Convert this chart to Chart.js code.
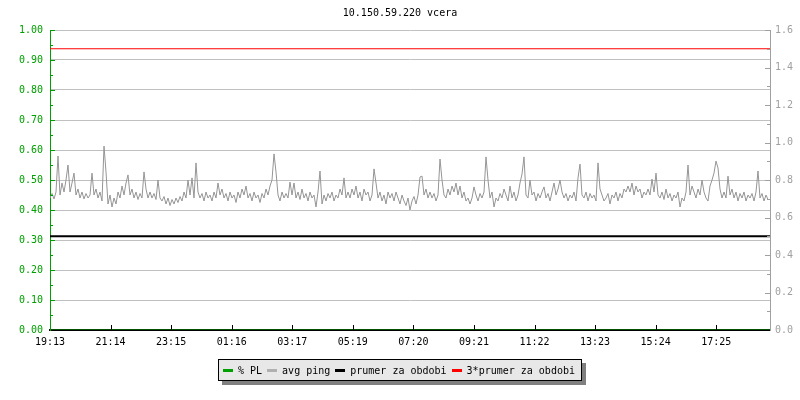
<!DOCTYPE html>
<html>
<head>
<meta charset="utf-8">
<script src="https://cdn.jsdelivr.net/npm/chart.js@4.4.1/dist/chart.umd.min.js"></script>
<style>
  html, body { margin: 0; padding: 0; background: #ffffff; }
  #wrap { position: relative; width: 800px; height: 400px; }
  #legend {
    position: absolute; left: 218px; top: 359px; height: 22px;
    box-sizing: border-box; padding: 0 6px 0 4px;
    background: #e8e8e8; border: 1px solid #000;
    box-shadow: 4px 4px 0 #808080;
    display: flex; align-items: center;
    font-family: "DejaVu Sans Mono", monospace; font-size: 10px; color: #000;
    white-space: pre;
  }
  #legend .sw { display: inline-block; width: 10px; height: 3px; margin: 0 5px 0 0; }
  #legend .it { display: flex; align-items: center; margin-right: 5px; }
  #legend .it:last-child { margin-right: 0; }
</style>
</head>
<body>
<div id="wrap">
  <canvas id="c" width="800" height="400"></canvas>
  <div id="legend"></div>
</div>
<script>
// ---- data ----
const chartTitle = '10.150.59.220 vcera';
const timeLabels = ['19:13','21:14','23:15','01:16','03:17','05:19','07:20','09:21','11:22','13:23','15:24','17:25'];
const tickStepMinutes = 121.13;
const totalMinutes = 1440;
const sampleStepMinutes = 4;
const leftTickLabels = ['0.00','0.10','0.20','0.30','0.40','0.50','0.60','0.70','0.80','0.90','1.00'];
const rightTickLabels = ['0.0','0.2','0.4','0.6','0.8','1.0','1.2','1.4','1.6'];
const seriesNames = ['% PL', 'avg ping', 'prumer za obdobi', '3*prumer za obdobi'];

const pingValues = [
  0.44,0.455,0.437,0.46,0.58,0.45,0.49,0.46,0.50,0.55,
  0.46,0.49,0.523,0.45,0.47,0.44,0.46,0.437,0.455,0.44,
  0.45,0.523,0.45,0.47,0.44,0.46,0.43,0.613,0.527,0.42,
  0.45,0.41,0.44,0.42,0.46,0.44,0.48,0.45,0.49,0.517,
  0.45,0.47,0.44,0.46,0.435,0.455,0.44,0.527,0.47,0.44,
  0.46,0.44,0.455,0.435,0.50,0.44,0.43,0.445,0.42,0.44,
  0.415,0.435,0.42,0.44,0.425,0.445,0.43,0.46,0.44,0.50,
  0.45,0.507,0.44,0.557,0.46,0.44,0.455,0.43,0.46,0.44,
  0.45,0.43,0.46,0.44,0.49,0.45,0.47,0.44,0.455,0.43,
  0.46,0.44,0.45,0.425,0.46,0.44,0.47,0.45,0.48,0.44,
  0.455,0.43,0.46,0.44,0.45,0.425,0.455,0.44,0.47,0.45,
  0.48,0.50,0.587,0.527,0.45,0.43,0.46,0.44,0.455,0.44,
  0.493,0.45,0.49,0.44,0.46,0.435,0.47,0.44,0.455,0.43,
  0.46,0.44,0.45,0.41,0.46,0.53,0.42,0.45,0.43,0.455,
  0.44,0.46,0.43,0.45,0.44,0.47,0.45,0.507,0.44,0.46,
  0.44,0.47,0.45,0.48,0.44,0.46,0.43,0.47,0.45,0.46,
  0.43,0.45,0.537,0.49,0.44,0.46,0.43,0.45,0.42,0.46,
  0.44,0.455,0.43,0.46,0.44,0.42,0.45,0.43,0.415,0.44,
  0.40,0.43,0.445,0.42,0.45,0.51,0.513,0.45,0.47,0.44,
  0.46,0.44,0.455,0.43,0.45,0.57,0.50,0.45,0.44,0.47,
  0.45,0.48,0.46,0.49,0.45,0.48,0.44,0.46,0.43,0.44,
  0.42,0.44,0.477,0.45,0.43,0.455,0.44,0.46,0.577,0.50,
  0.44,0.46,0.41,0.44,0.43,0.455,0.44,0.47,0.45,0.43,
  0.48,0.44,0.46,0.43,0.45,0.49,0.52,0.577,0.45,0.44,
  0.50,0.45,0.46,0.43,0.455,0.44,0.46,0.477,0.44,0.455,
  0.43,0.46,0.49,0.45,0.47,0.50,0.46,0.44,0.455,0.43,
  0.45,0.44,0.46,0.43,0.507,0.553,0.45,0.44,0.46,0.43,
  0.455,0.44,0.45,0.43,0.557,0.47,0.45,0.43,0.44,0.455,
  0.42,0.45,0.44,0.46,0.43,0.455,0.44,0.47,0.46,0.48,
  0.46,0.49,0.45,0.48,0.46,0.47,0.44,0.46,0.45,0.47,
  0.45,0.503,0.46,0.523,0.45,0.44,0.46,0.435,0.47,0.44,
  0.455,0.43,0.45,0.44,0.46,0.41,0.44,0.43,0.46,0.55,
  0.45,0.48,0.46,0.44,0.47,0.45,0.50,0.46,0.44,0.43,
  0.48,0.50,0.523,0.563,0.54,0.47,0.44,0.46,0.44,0.513,
  0.45,0.47,0.44,0.46,0.43,0.455,0.44,0.46,0.43,0.45,
  0.44,0.455,0.43,0.46,0.53,0.44,0.455,0.43,0.45,0.435
];
const packetLossStepMinutes = 120;
const packetLoss = [0,0,0,0,0,0,0,0,0,0,0,0,0];
const prumerValues = [0.5, 0.5];          // right axis
const triplePrumerValues = [1.5, 1.5];    // right axis

// ---- colours ----
const GREEN = '#00a000';
const GREY_TXT = '#a0a0a0';
const PING = '#959595';
const GRID = '#c0c0c0';
const RED = '#ff0000';
const FONT = '"DejaVu Sans Mono", monospace';

const innerTicks = {
  id: 'innerTicks',
  afterDraw(chart) {
    const { ctx, chartArea: a, scales } = chart;
    const y = scales.y, y1 = scales.y1, x = scales.x;
    ctx.save();
    ctx.lineWidth = 1;
    ctx.strokeStyle = GREEN;
    for (let i = 1; i < leftTickLabels.length * 2 - 1; i++) {
      const v = (y.max - y.min) * i / ((leftTickLabels.length - 1) * 2);
      const py = Math.round(y.getPixelForValue(v)) + 0.5;
      const len = i % 2 === 0 ? 5 : 3;
      ctx.beginPath(); ctx.moveTo(a.left, py); ctx.lineTo(a.left + len, py); ctx.stroke();
    }
    ctx.strokeStyle = GREY_TXT;
    for (let i = 1; i < rightTickLabels.length * 2 - 1; i++) {
      const v = (y1.max - y1.min) * i / ((rightTickLabels.length - 1) * 2);
      const py = Math.round(y1.getPixelForValue(v)) + 0.5;
      const len = i % 2 === 0 ? 5 : 3;
      ctx.beginPath(); ctx.moveTo(a.right, py); ctx.lineTo(a.right - len, py); ctx.stroke();
    }
    ctx.strokeStyle = '#000';
    x.ticks.forEach(t => {
      if (t.value <= 0) return;
      const px = Math.round(x.getPixelForValue(t.value)) + 0.5;
      ctx.beginPath(); ctx.moveTo(px, a.bottom); ctx.lineTo(px, a.bottom - 5); ctx.stroke();
    });
    ctx.restore();
  }
};

const ctx = document.getElementById('c').getContext('2d');
const chart = new Chart(ctx, {
  type: 'line',
  data: {
    datasets: [
      {
        label: seriesNames[0],
        data: packetLoss.map((v, i) => ({ x: i * packetLossStepMinutes, y: v })),
        borderColor: GREEN, backgroundColor: GREEN, borderWidth: 1, pointRadius: 0, yAxisID: 'y'
      },
      {
        label: seriesNames[1],
        data: pingValues.map((v, i) => ({ x: i * sampleStepMinutes, y: v })),
        borderColor: PING, backgroundColor: PING, borderWidth: 1, pointRadius: 0, tension: 0, yAxisID: 'y'
      },
      {
        label: seriesNames[2],
        data: prumerValues.map((v, i) => ({ x: i * totalMinutes, y: v })),
        borderColor: '#000000', backgroundColor: '#000000', borderWidth: 2, pointRadius: 0, yAxisID: 'y1'
      },
      {
        label: seriesNames[3],
        data: triplePrumerValues.map((v, i) => ({ x: i * totalMinutes, y: v })),
        borderColor: RED, backgroundColor: RED, borderWidth: 1, pointRadius: 0, yAxisID: 'y1'
      }
    ]
  },
  options: {
    responsive: false,
    animation: false,
    layout: { padding: 0 },
    plugins: {
      legend: { display: false },
      tooltip: { enabled: false },
      title: {
        display: true, text: chartTitle, color: '#000',
        font: { family: FONT, size: 10, weight: 'normal', lineHeight: 1.2 },
        padding: { top: 7, bottom: 11 }
      }
    },
    scales: {
      x: {
        type: 'linear', min: 0, max: totalMinutes, z: 1,
        afterFit: s => { s.height = 70; },
        afterBuildTicks: s => { s.ticks = timeLabels.map((l, i) => ({ value: i * tickStepMinutes })); },
        grid: { display: false, drawTicks: false },
        border: { display: true, color: '#000', width: 2 },
        ticks: {
          autoSkip: false, maxRotation: 0, padding: 6, color: '#000',
          font: { family: FONT, size: 10 },
          callback: (v, i) => timeLabels[i]
        }
      },
      y: {
        position: 'left', min: 0, max: 1,
        afterFit: s => { s.width = 50; },
        afterBuildTicks: s => { s.ticks = leftTickLabels.map((l, i) => ({ value: i / (leftTickLabels.length - 1) })); },
        grid: { color: GRID, drawTicks: false, lineWidth: 1 },
        border: { display: true, color: GREEN, width: 1 },
        ticks: {
          padding: 7, color: GREEN, font: { family: FONT, size: 10 },
          callback: (v, i) => leftTickLabels[i]
        }
      },
      y1: {
        position: 'right', min: 0, max: 1.6,
        afterFit: s => { s.width = 30; },
        afterBuildTicks: s => { s.ticks = rightTickLabels.map((l, i) => ({ value: 1.6 * i / (rightTickLabels.length - 1) })); },
        grid: { display: false, drawTicks: false },
        border: { display: true, color: GREY_TXT, width: 1 },
        ticks: {
          padding: 5, color: GREY_TXT, font: { family: FONT, size: 10 },
          callback: (v, i) => rightTickLabels[i]
        }
      }
    }
  },
  plugins: [innerTicks]
});

// ---- HTML legend built from the datasets ----
const lg = document.getElementById('legend');
chart.data.datasets.forEach(ds => {
  const it = document.createElement('span'); it.className = 'it';
  const sw = document.createElement('span'); sw.className = 'sw';
  sw.style.background = ds.label === 'avg ping' ? '#b0b0b0' : ds.borderColor;
  const tx = document.createElement('span'); tx.textContent = ds.label;
  it.appendChild(sw); it.appendChild(tx); lg.appendChild(it);
});
</script>
</body>
</html>
